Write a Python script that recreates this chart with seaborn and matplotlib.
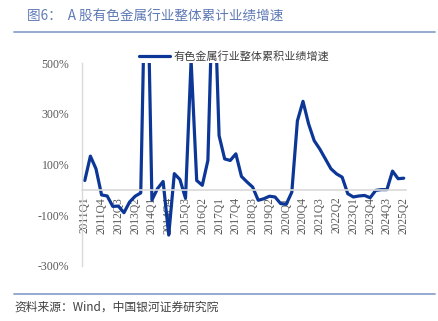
import numpy as np
import pandas as pd
import matplotlib
matplotlib.use("Agg")
import matplotlib.pyplot as plt
import seaborn as sns

# ---- data ----
years = list(range(2011, 2026))
quarters = [f"{y}Q{q}" for y in years for q in (1, 2, 3, 4)][:58]   # 2011Q1 .. 2025Q2
growth = [37, 133, 83, -20, -24, -65, -64, -90, -48, -25,
          -12, 1100, -40, 5, 33, -178, 64, 41, -33, 510,
          37, 18, 116, 900, 214, 122, 116, 142, 53, 31,
          11, -41, -35, -25, -28, -54, -57, -9, 272, 349,
          260, 194, 161, 122, 83, 63, 50, -15, -28, -24,
          -22, -31, -2, 1, 1, 74, 44, 46]
tick_labels = quarters[::3]
y_ticks = [-300, -100, 100, 300, 500]
series_name = "有色金属行业整体累积业绩增速"
title_text = "图6：  A 股有色金属行业整体累计业绩增速"
source_text = "资料来源：Wind，中国银河证券研究院"

df = pd.DataFrame({"pos": np.arange(len(growth)), "quarter": quarters, "growth": growth})

sns.set_theme(style="white")
plt.rcParams["font.family"] = ["Noto Sans CJK SC", "DejaVu Sans"]

W, H = 439, 321
fig = plt.figure(figsize=(W / 100, H / 100), dpi=100)
ax = fig.add_axes([82 / W, 1 - 266 / H, (406.5 - 82) / W, (266 - 63) / H])

line_color = "#0d3796"
sns.lineplot(data=df, x="pos", y="growth", ax=ax, color=line_color, linewidth=2.3,
             label=series_name, legend=False)

ax.set_xlim(-0.5, len(growth) - 0.5)
ax.set_ylim(-300, 500)
ax.set_xlabel("")
ax.set_ylabel("")

# spines
for s in ["top", "right"]:
    ax.spines[s].set_visible(False)
ax.spines["left"].set_color("#d9d9d9")
ax.spines["left"].set_linewidth(1.0)
ax.spines["bottom"].set_position(("data", 0))
ax.spines["bottom"].set_color("#d9d9d9")
ax.spines["bottom"].set_linewidth(1.2)

ax.set_yticks(y_ticks)
ax.set_yticklabels([f"{v}%" for v in y_ticks], fontfamily="Liberation Serif",
                   fontsize=8.5, color="#595959")
ax.set_xticks(range(0, len(growth), 3))
ax.set_xticklabels(tick_labels, rotation=90, fontfamily="Liberation Serif",
                   fontsize=8.3, color="#595959", va="top", ha="center")
ax.tick_params(axis="both", length=0)
ax.tick_params(axis="y", pad=9)
ax.tick_params(axis="x", pad=5)
ax.grid(False)

# legend
handles, labels = ax.get_legend_handles_labels()
fig.legend(handles, labels, loc="center left", bbox_to_anchor=(139 / W, 1 - 56 / H),
           frameon=False, borderpad=0, borderaxespad=0, fontsize=8,
           handlelength=2.8, handletextpad=0.35, labelcolor="#404040")

# title, rules, source
fig.text(27 / W, 1 - 17 / H, title_text, fontsize=9.8, color="#5f7ab5",
         va="center", ha="left")
fig.add_artist(plt.Line2D([14 / W, 435 / W], [1 - 32 / H, 1 - 32 / H],
                          color="#8ea3cc", linewidth=1.3))
fig.add_artist(plt.Line2D([14 / W, 435 / W], [1 - 294 / H, 1 - 294 / H],
                          color="#8ea3cc", linewidth=1.3))
fig.text(14 / W, 1 - 307 / H, source_text, fontsize=8.5, color="#404040",
         va="center", ha="left", style="italic")

fig.savefig("out.png", dpi=100)
